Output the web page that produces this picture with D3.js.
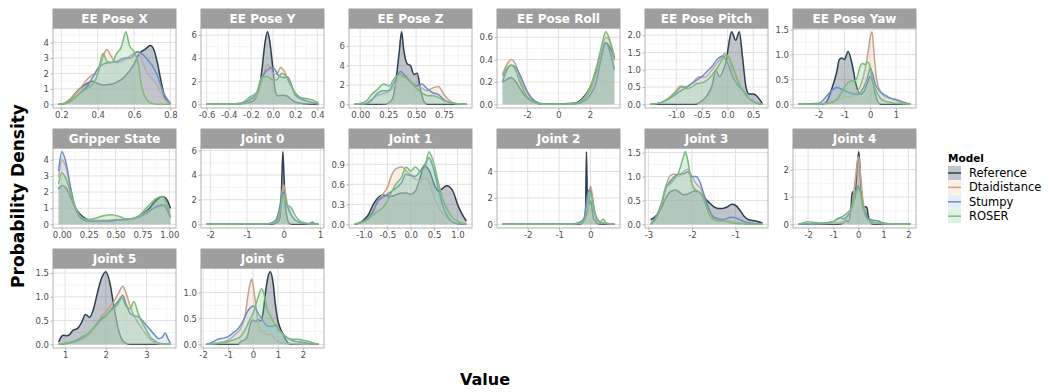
<!DOCTYPE html>
<html>
<head>
<meta charset="utf-8">
<script src="https://cdn.jsdelivr.net/npm/d3@7"></script>
<style>
  body { margin: 0; background: #fff; }
  text { font-family: "DejaVu Sans", sans-serif; }
</style>
</head>
<body>
<svg id="chart" width="1049" height="392"></svg>
<script>
// models, in drawing order
const models = ['Reference', 'Dtaidistance', 'Stumpy', 'ROSER'];
const lineColors = ['#2c3e50', '#c2a38c', '#6c8ebf', '#7dba78'];
const fillColors = ['#2c3e50', '#f2c9a8', '#a9c4eb', '#8fd49a'];

const panelNames = ['EE Pose X', 'EE Pose Y', 'EE Pose Z', 'EE Pose Roll', 'EE Pose Pitch', 'EE Pose Yaw',
  'Gripper State', 'Joint 0', 'Joint 1', 'Joint 2', 'Joint 3', 'Joint 4', 'Joint 5', 'Joint 6'];

const xTicks = [
  ['0.2', '0.4', '0.6', '0.8'],
  ['-0.6', '-0.4', '-0.2', '0.0', '0.2', '0.4'],
  ['0.00', '0.25', '0.50', '0.75'],
  ['-2', '0', '2'],
  ['-1.0', '-0.5', '0.0', '0.5'],
  ['-2', '-1', '0', '1'],
  ['0.00', '0.25', '0.50', '0.75', '1.00'],
  ['-2', '-1', '0', '1'],
  ['-1.0', '-0.5', '0.0', '0.5', '1.0'],
  ['-2', '-1', '0'],
  ['-3', '-2', '-1'],
  ['-2', '-1', '0', '1', '2'],
  ['1', '2', '3'],
  ['-2', '-1', '0', '1', '2']
];
const yTicks = [
  ['0', '1', '2', '3', '4'],
  ['0', '2', '4', '6'],
  ['0', '2', '4', '6'],
  ['0.0', '0.2', '0.4', '0.6'],
  ['0.0', '0.5', '1.0', '1.5', '2.0'],
  ['0.0', '0.5', '1.0', '1.5'],
  ['0', '1', '2', '3', '4'],
  ['0', '2', '4', '6'],
  ['0.0', '0.3', '0.6', '0.9'],
  ['0', '2', '4'],
  ['0.0', '0.5', '1.0', '1.5'],
  ['0', '1', '2'],
  ['0.0', '0.5', '1.0', '1.5'],
  ['0.0', '0.5', '1.0']
];

// density curves: [value, density], one list per model
const densPoseX = [
  [[0.185,0],[0.22,0.08],[0.25,0.35],[0.3,1.0],[0.35,1.4],[0.37,1.5],[0.4,1.35],[0.43,1.25],[0.47,1.3],[0.5,1.4],[0.55,1.8],[0.6,2.6],[0.63,3.3],[0.66,3.55],[0.69,3.8],[0.71,3.5],[0.73,2.6],[0.75,1.4],[0.77,0.45],[0.8,0.02]],
  [[0.185,0],[0.22,0.1],[0.25,0.35],[0.3,1.0],[0.35,1.7],[0.37,1.9],[0.4,2.0],[0.43,3.1],[0.45,3.55],[0.47,3.2],[0.5,2.7],[0.55,2.9],[0.6,3.3],[0.62,3.4],[0.65,2.6],[0.68,1.9],[0.71,1.5],[0.74,0.9],[0.77,0.3],[0.8,0.02]],
  [[0.185,0],[0.22,0.05],[0.25,0.2],[0.3,0.7],[0.35,1.3],[0.38,1.9],[0.4,2.3],[0.43,2.6],[0.47,2.7],[0.5,2.75],[0.55,3.0],[0.58,3.0],[0.62,3.4],[0.65,3.2],[0.68,2.8],[0.7,2.5],[0.73,1.8],[0.76,0.8],[0.8,0.05]],
  [[0.185,0],[0.22,0.05],[0.25,0.2],[0.3,0.7],[0.35,1.1],[0.38,1.4],[0.4,2.0],[0.42,3.0],[0.43,3.3],[0.45,2.8],[0.48,2.7],[0.5,3.2],[0.53,3.7],[0.555,4.7],[0.575,3.8],[0.6,3.4],[0.62,2.8],[0.645,1.0],[0.67,0.3],[0.7,0.06],[0.75,0],[0.8,0]]
];
const densPoseY = [
  [[-0.6,0],[-0.4,0.02],[-0.3,0.05],[-0.2,0.2],[-0.15,0.6],[-0.12,1.5],[-0.1,3.0],[-0.07,5.5],[-0.05,6.3],[-0.03,5.5],[0.0,3.0],[0.02,1.2],[0.04,0.75],[0.08,0.8],[0.12,0.75],[0.15,0.55],[0.2,0.2],[0.3,0.05],[0.41,0]],
  [[-0.6,0],[-0.4,0.02],[-0.3,0.05],[-0.2,0.4],[-0.15,0.7],[-0.1,2.0],[-0.05,3.4],[0.0,2.7],[0.03,2.6],[0.07,3.2],[0.1,2.9],[0.15,1.8],[0.2,1.0],[0.25,0.5],[0.3,0.3],[0.41,0.03]],
  [[-0.6,0],[-0.4,0.03],[-0.3,0.08],[-0.2,0.5],[-0.15,0.9],[-0.1,2.3],[-0.05,3.0],[0.0,3.2],[0.05,2.5],[0.1,2.3],[0.13,2.4],[0.17,1.6],[0.2,0.8],[0.3,0.3],[0.41,0.03]],
  [[-0.6,0],[-0.4,0.03],[-0.3,0.1],[-0.2,0.7],[-0.15,1.0],[-0.1,2.4],[-0.05,2.4],[0.0,2.1],[0.03,2.1],[0.08,2.7],[0.12,2.4],[0.17,1.5],[0.2,1.0],[0.25,0.6],[0.3,0.5],[0.35,0.4],[0.41,0.12]]
];
const densPoseZ = [
  [[-0.05,0],[0.2,0],[0.25,0.1],[0.29,0.6],[0.32,2.5],[0.35,5.5],[0.37,7.5],[0.39,5.6],[0.42,4.2],[0.45,4.0],[0.48,3.1],[0.51,3.2],[0.54,1.5],[0.57,0.3],[0.6,0.02],[0.95,0]],
  [[-0.05,0],[0.05,0.1],[0.1,0.5],[0.15,0.9],[0.2,1.1],[0.25,1.3],[0.3,1.8],[0.35,2.7],[0.4,2.9],[0.45,2.4],[0.5,2.0],[0.55,1.7],[0.6,1.4],[0.65,1.7],[0.7,1.85],[0.75,1.0],[0.8,0.4],[0.85,0.1],[0.95,0]],
  [[-0.05,0],[0.05,0.05],[0.1,0.4],[0.15,1.1],[0.2,1.4],[0.25,1.4],[0.3,2.2],[0.36,3.4],[0.4,3.0],[0.45,2.3],[0.5,1.9],[0.55,2.1],[0.6,1.6],[0.65,1.2],[0.7,1.0],[0.75,0.5],[0.8,0.2],[0.9,0.02],[0.95,0]],
  [[-0.05,0],[0.05,0.3],[0.1,1.0],[0.15,1.5],[0.21,2.1],[0.26,1.9],[0.3,2.6],[0.36,3.1],[0.4,2.8],[0.45,2.3],[0.5,1.7],[0.55,1.2],[0.6,0.9],[0.65,0.9],[0.7,0.7],[0.75,0.4],[0.8,0.2],[0.9,0.05],[0.95,0.01]]
];
const densPoseRoll = [
  [[-3.55,0.2],[-3.3,0.22],[-3.05,0.24],[-2.7,0.2],[-2.4,0.13],[-2.0,0.06],[-1.5,0.015],[-1.0,0],[1.0,0.01],[1.5,0.05],[2.0,0.15],[2.4,0.3],[2.7,0.45],[3.0,0.55],[3.3,0.5],[3.55,0.42]],
  [[-3.55,0.27],[-3.3,0.35],[-3.0,0.4],[-2.7,0.35],[-2.4,0.22],[-2.0,0.1],[-1.5,0.03],[-1.0,0.005],[1.0,0.005],[1.5,0.03],[2.0,0.12],[2.4,0.28],[2.7,0.45],[3.0,0.6],[3.2,0.58],[3.55,0.43]],
  [[-3.55,0.2],[-3.3,0.3],[-3.0,0.35],[-2.7,0.33],[-2.4,0.25],[-2.0,0.12],[-1.5,0.03],[-1.0,0.005],[1.0,0.005],[1.5,0.02],[2.0,0.08],[2.4,0.2],[2.7,0.4],[3.0,0.55],[3.2,0.5],[3.55,0.31]],
  [[-3.55,0.25],[-3.3,0.32],[-3.0,0.35],[-2.7,0.3],[-2.4,0.18],[-2.0,0.07],[-1.5,0.02],[-1.0,0],[1.0,0.005],[1.5,0.04],[2.0,0.15],[2.4,0.33],[2.7,0.5],[3.0,0.65],[3.2,0.6],[3.55,0.4]]
];
const densPosePitch = [
  [[-1.5,0],[-0.65,0],[-0.5,0.1],[-0.4,0.25],[-0.3,0.55],[-0.23,0.97],[-0.15,0.8],[-0.08,1.0],[-0.02,1.3],[0.03,1.8],[0.08,2.1],[0.16,1.85],[0.23,2.1],[0.29,1.4],[0.36,0.5],[0.42,0.3],[0.49,0.3],[0.55,0.27],[0.62,0.15],[0.68,0.02]],
  [[-1.5,0],[-1.3,0.05],[-1.1,0.25],[-1.0,0.4],[-0.92,0.53],[-0.8,0.5],[-0.7,0.6],[-0.6,0.75],[-0.54,0.8],[-0.45,0.78],[-0.3,1.0],[-0.2,1.2],[-0.1,1.38],[-0.06,1.47],[0.0,1.4],[0.1,1.0],[0.2,0.65],[0.3,0.4],[0.4,0.2],[0.5,0.08],[0.6,0.02],[0.68,0]],
  [[-1.5,0],[-1.3,0.05],[-1.1,0.2],[-1.0,0.3],[-0.9,0.4],[-0.8,0.5],[-0.7,0.6],[-0.6,0.7],[-0.5,0.8],[-0.4,0.95],[-0.3,1.1],[-0.2,1.3],[-0.1,1.4],[0.0,1.2],[0.1,0.8],[0.2,0.55],[0.3,0.4],[0.4,0.2],[0.5,0.08],[0.6,0.03],[0.68,0]],
  [[-1.5,0],[-1.3,0.05],[-1.1,0.2],[-1.0,0.35],[-0.9,0.5],[-0.8,0.45],[-0.7,0.5],[-0.6,0.6],[-0.5,0.62],[-0.4,0.7],[-0.3,0.85],[-0.2,1.05],[-0.1,1.3],[-0.05,1.4],[0.0,1.42],[0.1,1.1],[0.2,0.7],[0.3,0.4],[0.4,0.2],[0.5,0.08],[0.6,0.02],[0.68,0]]
];
const densPoseYaw = [
  [[-2.78,0],[-1.9,0],[-1.7,0.05],[-1.5,0.3],[-1.3,0.65],[-1.2,0.9],[-1.1,0.93],[-1.0,0.9],[-0.86,1.06],[-0.7,0.8],[-0.55,0.4],[-0.39,0.2],[-0.2,0.3],[-0.1,0.45],[0.0,0.56],[0.1,0.45],[0.2,0.2],[0.3,0.05],[0.4,0],[1.56,0]],
  [[-2.78,0],[-2.0,0.01],[-1.5,0.05],[-1.2,0.1],[-1.0,0.15],[-0.8,0.15],[-0.6,0.2],[-0.4,0.35],[-0.2,0.7],[-0.1,1.0],[0.0,1.35],[0.07,1.46],[0.15,1.0],[0.25,0.5],[0.4,0.25],[0.6,0.15],[0.8,0.12],[1.0,0.08],[1.2,0.04],[1.56,0]],
  [[-2.78,0],[-2.0,0.02],[-1.8,0.1],[-1.6,0.22],[-1.45,0.3],[-1.3,0.34],[-1.1,0.3],[-0.9,0.25],[-0.7,0.22],[-0.5,0.2],[-0.3,0.3],[-0.1,0.55],[0.0,0.73],[0.1,0.6],[0.2,0.4],[0.4,0.25],[0.6,0.18],[0.8,0.12],[1.0,0.1],[1.2,0.06],[1.56,0.01]],
  [[-2.78,0],[-2.0,0],[-1.6,0.02],[-1.3,0.1],[-1.1,0.25],[-0.9,0.42],[-0.75,0.47],[-0.6,0.47],[-0.5,0.55],[-0.4,0.75],[-0.3,0.82],[-0.2,0.8],[-0.1,0.85],[0.0,0.75],[0.1,0.45],[0.2,0.3],[0.3,0.2],[0.4,0.12],[0.6,0.06],[0.8,0.04],[1.0,0.02],[1.56,0]]
];
const densGripper = [
  [[-0.03,2.2],[0.0,2.4],[0.04,2.25],[0.08,1.7],[0.12,1.1],[0.16,0.7],[0.2,0.45],[0.25,0.27],[0.3,0.2],[0.4,0.2],[0.5,0.25],[0.6,0.3],[0.7,0.45],[0.8,0.9],[0.88,1.5],[0.93,1.72],[0.97,1.6],[1.01,1.0]],
  [[-0.03,2.9],[0.0,4.0],[0.04,3.5],[0.08,2.3],[0.12,1.2],[0.16,0.6],[0.2,0.35],[0.25,0.25],[0.4,0.25],[0.5,0.3],[0.6,0.3],[0.7,0.45],[0.8,0.8],[0.9,1.1],[0.95,1.1],[0.98,0.9],[1.01,0.5]],
  [[-0.03,3.3],[0.0,4.5],[0.04,3.8],[0.08,2.3],[0.12,1.1],[0.16,0.5],[0.2,0.28],[0.25,0.2],[0.4,0.2],[0.5,0.25],[0.6,0.3],[0.7,0.4],[0.8,0.75],[0.9,1.15],[0.95,1.2],[0.98,0.9],[1.01,0.4]],
  [[-0.03,2.5],[0.0,3.2],[0.04,2.8],[0.08,2.0],[0.12,1.1],[0.16,0.6],[0.2,0.37],[0.25,0.3],[0.32,0.4],[0.4,0.55],[0.47,0.6],[0.55,0.45],[0.62,0.3],[0.7,0.45],[0.8,1.1],[0.88,1.6],[0.93,1.72],[0.97,1.4],[1.01,0.4]]
];
const densJoint0 = [
  [[-2.1,0],[-0.4,0],[-0.2,0.1],[-0.1,0.5],[-0.06,2.5],[-0.02,5.9],[0.01,4.0],[0.05,1.5],[0.1,0.5],[0.15,0.1],[0.25,0],[0.95,0]],
  [[-2.1,0],[-0.5,0.03],[-0.3,0.1],[-0.2,0.3],[-0.1,1.2],[-0.05,2.5],[0.0,3.2],[0.05,2.6],[0.1,1.6],[0.15,1.2],[0.2,0.8],[0.3,0.4],[0.4,0.2],[0.5,0.1],[0.7,0.05],[0.95,0]],
  [[-2.1,0],[-0.5,0.03],[-0.4,0.06],[-0.3,0.15],[-0.2,0.4],[-0.1,1.5],[-0.05,2.4],[0.0,2.6],[0.05,2.0],[0.1,1.5],[0.2,0.8],[0.3,0.4],[0.4,0.2],[0.5,0.1],[0.7,0.05],[0.78,0.2],[0.85,0.05],[0.95,0]],
  [[-2.1,0],[-0.5,0.03],[-0.3,0.1],[-0.2,0.25],[-0.1,1.0],[-0.05,1.8],[0.0,2.45],[0.05,2.1],[0.1,1.6],[0.17,1.45],[0.22,1.3],[0.3,0.8],[0.4,0.4],[0.5,0.2],[0.7,0.05],[0.95,0]]
];
const densJoint1 = [
  [[-1.2,0],[-1.1,0.02],[-1.0,0.07],[-0.9,0.15],[-0.8,0.3],[-0.7,0.4],[-0.6,0.44],[-0.5,0.43],[-0.4,0.42],[-0.3,0.45],[-0.2,0.47],[-0.1,0.47],[0.0,0.45],[0.1,0.5],[0.2,0.7],[0.29,0.88],[0.4,0.8],[0.5,0.6],[0.6,0.5],[0.7,0.55],[0.77,0.58],[0.9,0.5],[1.0,0.3],[1.1,0.15],[1.19,0.05]],
  [[-1.2,0],[-1.1,0.03],[-1.0,0.05],[-0.9,0.1],[-0.8,0.2],[-0.7,0.35],[-0.6,0.45],[-0.5,0.55],[-0.4,0.75],[-0.3,0.84],[-0.18,0.86],[-0.1,0.8],[0.0,0.75],[0.1,0.68],[0.2,0.65],[0.3,0.7],[0.4,0.62],[0.5,0.4],[0.6,0.25],[0.7,0.15],[0.8,0.08],[0.9,0.03],[1.0,0.01],[1.19,0]],
  [[-1.2,0],[-1.0,0.05],[-0.9,0.1],[-0.8,0.2],[-0.7,0.35],[-0.6,0.4],[-0.5,0.45],[-0.4,0.5],[-0.3,0.55],[-0.2,0.62],[-0.1,0.75],[0.0,0.73],[0.1,0.72],[0.2,0.8],[0.3,0.9],[0.39,1.0],[0.5,0.8],[0.6,0.5],[0.7,0.25],[0.8,0.1],[0.9,0.03],[1.0,0.01],[1.19,0]],
  [[-1.2,0],[-1.0,0.04],[-0.9,0.08],[-0.8,0.15],[-0.7,0.2],[-0.6,0.25],[-0.5,0.35],[-0.4,0.5],[-0.3,0.62],[-0.2,0.7],[-0.1,0.86],[0.0,0.8],[0.1,0.86],[0.2,0.8],[0.3,0.85],[0.39,1.09],[0.5,0.9],[0.6,0.6],[0.7,0.35],[0.8,0.2],[0.9,0.1],[1.0,0.05],[1.1,0.02],[1.19,0]]
];
const densJoint2 = [
  [[-2.8,0],[-0.5,0],[-0.3,0.05],[-0.2,0.3],[-0.16,1.0],[-0.13,5.5],[-0.1,2.0],[-0.05,1.5],[0.0,1.8],[0.03,1.5],[0.07,0.8],[0.1,0.4],[0.15,0.3],[0.2,0.1],[0.3,0.02],[0.76,0]],
  [[-2.8,0],[-1.0,0.01],[-0.5,0.05],[-0.3,0.2],[-0.2,0.5],[-0.1,1.5],[-0.05,2.3],[0.0,2.9],[0.05,2.3],[0.1,1.3],[0.2,0.5],[0.3,0.2],[0.4,0.1],[0.6,0.02],[0.76,0]],
  [[-2.8,0],[-1.0,0.01],[-0.5,0.05],[-0.3,0.2],[-0.2,0.5],[-0.1,2.2],[-0.05,2.6],[0.0,2.5],[0.05,2.0],[0.1,1.2],[0.2,0.4],[0.3,0.15],[0.4,0.1],[0.6,0.02],[0.76,0]],
  [[-2.8,0],[-1.0,0.01],[-0.5,0.02],[-0.3,0.1],[-0.2,0.3],[-0.1,1.0],[-0.05,1.8],[0.0,2.4],[0.05,2.1],[0.1,1.4],[0.2,0.4],[0.3,0.2],[0.4,0.4],[0.5,0.1],[0.76,0]]
];
const densJoint3 = [
  [[-2.95,0.1],[-2.8,0.2],[-2.7,0.35],[-2.6,0.55],[-2.5,0.68],[-2.38,0.72],[-2.3,0.68],[-2.2,0.62],[-2.1,0.63],[-2.0,0.68],[-1.9,0.7],[-1.8,0.65],[-1.7,0.55],[-1.6,0.45],[-1.5,0.37],[-1.4,0.33],[-1.3,0.33],[-1.2,0.36],[-1.08,0.42],[-1.0,0.4],[-0.9,0.3],[-0.8,0.17],[-0.7,0.1],[-0.6,0.08],[-0.5,0.06],[-0.38,0.03]],
  [[-2.95,0],[-2.8,0.2],[-2.7,0.45],[-2.6,0.8],[-2.5,1.02],[-2.4,1.05],[-2.3,1.0],[-2.2,1.1],[-2.1,1.15],[-2.0,1.0],[-1.9,0.85],[-1.8,0.75],[-1.7,0.55],[-1.6,0.3],[-1.5,0.12],[-1.4,0.08],[-1.2,0.07],[-1.0,0.05],[-0.8,0.02],[-0.6,0.01],[-0.38,0]],
  [[-2.95,0],[-2.8,0.2],[-2.7,0.4],[-2.6,0.75],[-2.5,0.9],[-2.4,1.0],[-2.3,1.05],[-2.2,1.05],[-2.1,1.1],[-2.0,1.0],[-1.9,1.0],[-1.8,0.85],[-1.7,0.55],[-1.6,0.3],[-1.5,0.15],[-1.4,0.12],[-1.3,0.1],[-1.2,0.12],[-1.1,0.15],[-1.0,0.14],[-0.9,0.1],[-0.8,0.06],[-0.6,0.02],[-0.38,0]],
  [[-2.95,0],[-2.8,0.15],[-2.7,0.4],[-2.6,0.78],[-2.5,0.85],[-2.4,0.95],[-2.3,1.1],[-2.2,1.4],[-2.15,1.52],[-2.1,1.35],[-2.0,0.85],[-1.9,0.7],[-1.8,0.65],[-1.7,0.45],[-1.6,0.2],[-1.5,0.1],[-1.4,0.08],[-1.2,0.06],[-1.0,0.02],[-0.8,0.01],[-0.38,0]]
];
const densJoint4 = [
  [[-2.38,0],[-0.8,0],[-0.6,0.05],[-0.5,0.15],[-0.4,0.1],[-0.3,0.5],[-0.25,1.1],[-0.2,1.2],[-0.15,0.9],[-0.1,1.3],[-0.05,2.0],[0.02,2.66],[0.06,2.2],[0.1,1.5],[0.15,1.0],[0.2,0.5],[0.28,0.65],[0.35,0.6],[0.4,0.3],[0.5,0.05],[0.6,0],[2.08,0]],
  [[-2.38,0],[-1.0,0.05],[-0.6,0.1],[-0.4,0.3],[-0.3,0.5],[-0.2,1.0],[-0.1,1.8],[0.0,2.48],[0.05,2.3],[0.1,1.7],[0.2,0.8],[0.3,0.4],[0.4,0.2],[0.5,0.1],[0.7,0.05],[1.0,0.02],[2.08,0]],
  [[-2.38,0],[-1.5,0.03],[-1.0,0.1],[-0.85,0.2],[-0.7,0.25],[-0.6,0.2],[-0.4,0.35],[-0.3,0.5],[-0.2,0.8],[-0.1,1.2],[0.0,1.4],[0.1,1.1],[0.2,0.6],[0.3,0.4],[0.4,0.2],[0.6,0.15],[0.8,0.12],[1.0,0.05],[1.5,0.01],[2.08,0]],
  [[-2.38,0],[-2.2,0.05],[-2.05,0.1],[-1.8,0.08],[-1.5,0.05],[-1.0,0.1],[-0.8,0.2],[-0.6,0.3],[-0.4,0.45],[-0.3,0.55],[-0.2,0.8],[-0.1,1.1],[0.0,1.3],[0.1,1.1],[0.2,0.6],[0.3,0.3],[0.4,0.15],[0.6,0.08],[0.8,0.05],[1.0,0.03],[2.08,0]]
];
const densJoint5 = [
  [[0.84,0.05],[0.9,0.15],[0.95,0.19],[1.05,0.18],[1.1,0.2],[1.2,0.3],[1.3,0.33],[1.4,0.45],[1.5,0.63],[1.6,0.57],[1.7,0.75],[1.8,1.1],[1.9,1.4],[2.0,1.53],[2.1,1.3],[2.2,0.8],[2.3,0.35],[2.4,0.1],[2.5,0.02],[2.6,0],[3.59,0]],
  [[0.84,0],[1.0,0.01],[1.2,0.04],[1.4,0.1],[1.6,0.2],[1.7,0.3],[1.8,0.42],[1.9,0.6],[2.0,0.68],[2.1,0.8],[2.2,0.9],[2.3,1.05],[2.42,1.22],[2.5,1.08],[2.6,0.8],[2.7,0.6],[2.8,0.45],[2.9,0.32],[3.0,0.2],[3.1,0.1],[3.2,0.04],[3.3,0.01],[3.59,0]],
  [[0.84,0],[1.0,0.02],[1.2,0.05],[1.4,0.12],[1.6,0.25],[1.8,0.45],[1.9,0.55],[2.0,0.6],[2.1,0.7],[2.2,0.8],[2.3,0.9],[2.42,1.03],[2.5,0.85],[2.6,0.65],[2.7,0.6],[2.8,0.58],[2.9,0.5],[3.0,0.4],[3.1,0.3],[3.2,0.2],[3.3,0.12],[3.38,0.14],[3.46,0.24],[3.54,0.1],[3.59,0.02]],
  [[0.84,0],[1.0,0.02],[1.2,0.06],[1.4,0.15],[1.6,0.25],[1.8,0.45],[2.0,0.6],[2.1,0.7],[2.2,0.75],[2.3,0.85],[2.4,0.98],[2.5,0.8],[2.6,0.75],[2.69,0.9],[2.8,0.65],[2.9,0.45],[3.0,0.3],[3.1,0.15],[3.2,0.08],[3.3,0.03],[3.4,0.01],[3.59,0]]
];
const densJoint6 = [
  [[-1.86,0],[-0.6,0],[-0.5,0.05],[-0.3,0.1],[-0.2,0.2],[-0.1,0.4],[0.0,0.47],[0.1,0.44],[0.2,0.48],[0.3,0.45],[0.4,0.6],[0.5,1.0],[0.6,1.3],[0.69,1.4],[0.8,1.2],[0.9,0.75],[1.0,0.45],[1.1,0.3],[1.2,0.2],[1.3,0.1],[1.4,0.03],[1.5,0],[2.62,0]],
  [[-1.86,0],[-1.5,0.02],[-1.0,0.08],[-0.7,0.2],[-0.5,0.3],[-0.3,0.6],[-0.2,0.95],[-0.1,1.2],[-0.05,1.26],[0.0,1.15],[0.1,0.8],[0.2,0.4],[0.3,0.25],[0.4,0.25],[0.5,0.2],[0.6,0.18],[0.7,0.2],[0.8,0.15],[0.9,0.08],[1.0,0.05],[1.2,0.02],[1.5,0.01],[2.62,0]],
  [[-1.86,0],[-1.6,0.05],[-1.4,0.1],[-1.2,0.12],[-1.0,0.15],[-0.8,0.22],[-0.6,0.3],[-0.4,0.45],[-0.2,0.65],[0.03,0.74],[0.2,0.6],[0.4,0.45],[0.6,0.35],[0.8,0.35],[0.9,0.38],[1.0,0.3],[1.2,0.2],[1.4,0.12],[1.6,0.07],[1.8,0.05],[2.0,0.04],[2.2,0.02],[2.62,0]],
  [[-1.86,0],[-1.5,0.01],[-1.0,0.05],[-0.7,0.1],[-0.5,0.15],[-0.3,0.3],[-0.1,0.5],[0.0,0.6],[0.1,0.75],[0.2,0.9],[0.34,1.07],[0.45,0.95],[0.55,0.7],[0.7,0.55],[0.8,0.45],[1.0,0.3],[1.2,0.2],[1.4,0.12],[1.6,0.1],[1.8,0.1],[2.0,0.08],[2.2,0.06],[2.4,0.03],[2.62,0]]
];

const densities = [densPoseX, densPoseY, densPoseZ, densPoseRoll, densPosePitch, densPoseYaw,
  densGripper, densJoint0, densJoint1, densJoint2, densJoint3, densJoint4, densJoint5, densJoint6];

// layout
const gridLeft = 53, gridTop = 9;
const colStep = 148, rowStep = 120;
const panelW = 123, stripH = 19, plotH = 80;
const nCols = 6;

const svg = d3.select('#chart');

// minor breaks halfway between the major ones
function minorBreaks(ticks, domain) {
  const step = ticks[1] - ticks[0];
  const out = [];
  for (let v = ticks[0] - step / 2; v <= domain[1]; v += step) {
    if (v >= domain[0]) out.push(v);
  }
  return out;
}

panelNames.forEach((name, i) => {
  const col = i % nCols, row = Math.floor(i / nCols);
  const g = svg.append('g')
    .attr('transform', 'translate(' + (gridLeft + col * colStep) + ',' + (gridTop + row * rowStep) + ')');

  const series = densities[i];
  const all = series.flat();
  const xExt = d3.extent(all, (d) => d[0]);
  const xPad = (xExt[1] - xExt[0]) * 0.05;
  const yMax = d3.max(all, (d) => d[1]);

  const x = d3.scaleLinear().domain([xExt[0] - xPad, xExt[1] + xPad]).range([0, panelW]);
  const y = d3.scaleLinear().domain([-0.05 * yMax, 1.05 * yMax]).range([stripH + plotH, stripH]);

  const xt = xTicks[i].map(Number);
  const yt = yTicks[i].map(Number);

  // panel background and grid
  g.append('rect').attr('x', 0).attr('y', stripH).attr('width', panelW).attr('height', plotH).attr('fill', '#fff');

  const grid = g.append('g');
  minorBreaks(xt, x.domain()).forEach((v) => {
    grid.append('line').attr('x1', x(v)).attr('x2', x(v)).attr('y1', stripH).attr('y2', stripH + plotH)
      .attr('stroke', '#efefef').attr('stroke-width', 0.6);
  });
  minorBreaks(yt, y.domain()).forEach((v) => {
    grid.append('line').attr('x1', 0).attr('x2', panelW).attr('y1', y(v)).attr('y2', y(v))
      .attr('stroke', '#efefef').attr('stroke-width', 0.6);
  });
  xt.forEach((v) => {
    grid.append('line').attr('x1', x(v)).attr('x2', x(v)).attr('y1', stripH).attr('y2', stripH + plotH)
      .attr('stroke', '#e0e0e0').attr('stroke-width', 1);
  });
  yt.forEach((v) => {
    grid.append('line').attr('x1', 0).attr('x2', panelW).attr('y1', y(v)).attr('y2', y(v))
      .attr('stroke', '#e0e0e0').attr('stroke-width', 1);
  });

  // densities
  const area = d3.area()
    .x((d) => x(d[0]))
    .y0(y(0))
    .y1((d) => y(d[1]))
    .curve(d3.curveMonotoneX);
  const line = d3.line()
    .x((d) => x(d[0]))
    .y((d) => y(d[1]))
    .curve(d3.curveMonotoneX);

  series.forEach((pts, m) => {
    g.append('path').datum(pts).attr('d', area)
      .attr('fill', fillColors[m]).attr('fill-opacity', 0.3);
    g.append('path').datum(pts).attr('d', line)
      .attr('fill', 'none').attr('stroke', lineColors[m]).attr('stroke-width', 1.5)
      .attr('stroke-linejoin', 'round');
  });

  // border
  g.append('rect').attr('x', 0).attr('y', stripH).attr('width', panelW).attr('height', plotH)
    .attr('fill', 'none').attr('stroke', '#b3b3b3').attr('stroke-width', 1);

  // strip
  g.append('rect').attr('x', 0).attr('y', 0).attr('width', panelW).attr('height', stripH)
    .attr('fill', '#9e9e9e').attr('stroke', '#9e9e9e');
  g.append('text').attr('x', panelW / 2).attr('y', stripH / 2 + 4.5)
    .attr('text-anchor', 'middle').attr('fill', '#fff')
    .style('font-size', '12px').style('font-weight', 'bold')
    .text(name);

  // axes
  const xAxis = g.append('g').attr('transform', 'translate(0,' + (stripH + plotH) + ')')
    .call(d3.axisBottom(x).tickValues(xt).tickFormat((d, k) => xTicks[i][k]).tickSize(2.5).tickPadding(1.5));
  const yAxis = g.append('g')
    .call(d3.axisLeft(y).tickValues(yt).tickFormat((d, k) => yTicks[i][k]).tickSize(2.5).tickPadding(1.5));
  [xAxis, yAxis].forEach((ax) => {
    ax.select('.domain').remove();
    ax.selectAll('.tick line').attr('stroke', '#b3b3b3');
    ax.selectAll('.tick text').attr('fill', '#4d4d4d')
      .style('font-size', '8.5px').style('font-family', '"DejaVu Sans", sans-serif');
  });
});

// axis titles
svg.append('text').attr('x', 485).attr('y', 385).attr('text-anchor', 'middle')
  .style('font-size', '16px').style('font-weight', 'bold').attr('fill', '#000')
  .text('Value');
svg.append('text').attr('transform', 'translate(24,196) rotate(-90)').attr('text-anchor', 'middle')
  .style('font-size', '17px').style('font-weight', 'bold').attr('fill', '#000')
  .text('Probability Density');

// legend
const legend = svg.append('g').attr('transform', 'translate(948,0)');
legend.append('text').attr('x', 0).attr('y', 162)
  .style('font-size', '10.5px').style('font-weight', 'bold').attr('fill', '#000')
  .text('Model');
models.forEach((m, k) => {
  const cy = 173 + k * 14.4;
  legend.append('rect').attr('x', 0).attr('y', cy - 7).attr('width', 13).attr('height', 14)
    .attr('fill', fillColors[k]).attr('fill-opacity', 0.3);
  legend.append('line').attr('x1', 0).attr('x2', 13).attr('y1', cy).attr('y2', cy)
    .attr('stroke', lineColors[k]).attr('stroke-width', 1.5);
  legend.append('text').attr('x', 21).attr('y', cy + 4)
    .style('font-size', '11.5px').attr('fill', '#000')
    .text(m);
});
</script>
</body>
</html>
